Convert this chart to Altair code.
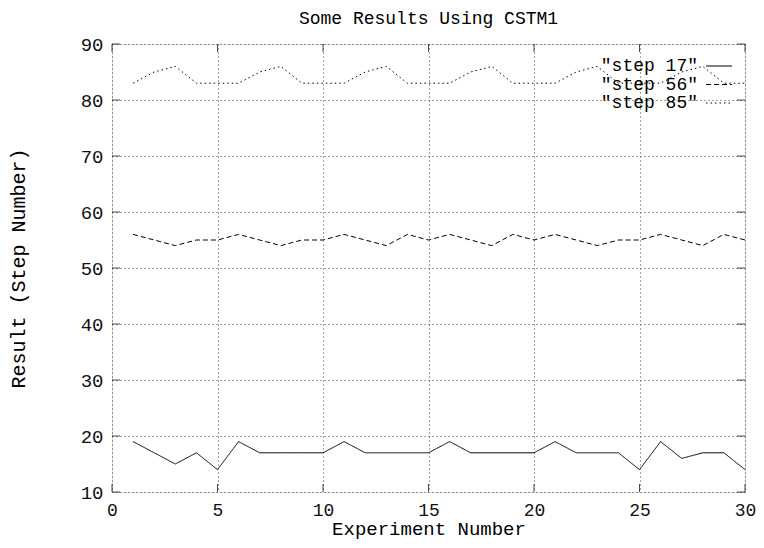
import altair as alt
import pandas as pd

experiments = list(range(1, 31))
step17 = [19, 17, 15, 17, 14, 19, 17, 17, 17, 17, 19, 17, 17, 17, 17,
          19, 17, 17, 17, 17, 19, 17, 17, 17, 14, 19, 16, 17, 17, 14]
step56 = [56, 55, 54, 55, 55, 56, 55, 54, 55, 55, 56, 55, 54, 56, 55,
          56, 55, 54, 56, 55, 56, 55, 54, 55, 55, 56, 55, 54, 56, 55]
step85 = [83, 85, 86, 83, 83, 83, 85, 86, 83, 83, 83, 85, 86, 83, 83,
          83, 85, 86, 83, 83, 83, 85, 86, 83, 83, 83, 85, 86, 83, 83]
series_names = ['"step 17"', '"step 56"', '"step 85"']
series_dash = [[1, 0], [5, 3], [1.5, 3]]
x_ticks = [0, 5, 10, 15, 20, 25, 30]
y_ticks = [10, 20, 30, 40, 50, 60, 70, 80, 90]

rows = []
for name, vals in zip(series_names, [step17, step56, step85]):
    for e, v in zip(experiments, vals):
        rows.append({"exp": e, "val": v, "series": name})
df = pd.DataFrame(rows)

W, H = 633, 448
MONO = "Liberation Mono"

xscale = alt.Scale(domain=[0, 30], nice=False, zero=False)
yscale = alt.Scale(domain=[10, 90], nice=False, zero=False)

xaxis = alt.Axis(values=x_ticks, grid=True, gridDash=[1, 3], gridColor="#444",
                 ticks=False, tickSize=0, domain=False, labelFlush=False,
                 labelFont=MONO, labelFontSize=18, labelColor="#111", labelPadding=9,
                 title="Experiment Number", titleFont=MONO, titleFontSize=19,
                 titleFontWeight="normal", titleColor="#000", titleX=W / 2,
                 titleY=36.5, titleBaseline="middle")
yaxis = alt.Axis(values=y_ticks, grid=True, gridDash=[1, 3], gridColor="#444",
                 ticks=False, tickSize=0, domain=False, labelFlush=False,
                 labelFont=MONO, labelFontSize=19, labelColor="#111", labelPadding=9,
                 title="Result (Step Number)", titleFont=MONO, titleFontSize=20,
                 titleFontWeight="normal", titleColor="#000", titleX=-94,
                 titleY=H / 2, titleAngle=-90, titleBaseline="middle")

lines = alt.Chart(df).mark_line(color="black", strokeWidth=1).encode(
    x=alt.X("exp:Q", scale=xscale, axis=xaxis),
    y=alt.Y("val:Q", scale=yscale, axis=yaxis),
    strokeDash=alt.StrokeDash("series:N",
                              scale=alt.Scale(domain=series_names, range=series_dash),
                              legend=None),
    detail="series:N",
)

xt = pd.DataFrame({"t": x_ticks})
yt = pd.DataFrame({"t": y_ticks})
tick_bottom = alt.Chart(xt).mark_tick(orient="vertical", size=8, yOffset=-4,
                                      color="black", thickness=1).encode(
    x=alt.X("t:Q", scale=xscale), y=alt.datum(10, scale=yscale))
tick_top = alt.Chart(xt).mark_tick(orient="vertical", size=8, yOffset=4,
                                   color="black", thickness=1).encode(
    x=alt.X("t:Q", scale=xscale), y=alt.datum(90, scale=yscale))
tick_left = alt.Chart(yt).mark_tick(orient="horizontal", size=8, xOffset=4,
                                    color="black", thickness=1).encode(
    y=alt.Y("t:Q", scale=yscale), x=alt.datum(0, scale=xscale))
tick_right = alt.Chart(yt).mark_tick(orient="horizontal", size=8, xOffset=-4,
                                     color="black", thickness=1).encode(
    y=alt.Y("t:Q", scale=yscale), x=alt.datum(30, scale=xscale))

legend_layers = []
for i, (name, dash) in enumerate(zip(series_names, series_dash)):
    ly = 22 + i * 18.5
    legend_layers.append(
        alt.Chart(pd.DataFrame({"label": [name]})).mark_text(
            font=MONO, fontSize=18, align="right", baseline="middle", color="black"
        ).encode(text="label:N", x=alt.value(586), y=alt.value(ly))
    )
    legend_layers.append(
        alt.Chart(pd.DataFrame({"label": [name]})).mark_rule(
            color="black", strokeWidth=1, strokeDash=dash
        ).encode(x=alt.value(594), x2=alt.value(620), y=alt.value(ly))
    )

chart = alt.layer(lines, tick_bottom, tick_top, tick_left, tick_right,
                  *legend_layers).properties(
    width=W, height=H,
    title=alt.TitleParams("Some Results Using CSTM1", font=MONO, fontSize=18,
                          fontWeight="normal", color="#000", anchor="middle",
                          offset=7),
    autosize=alt.AutoSizeParams(type="none"),
    padding={"left": 104, "top": 36, "right": 11, "bottom": 48},
).configure_view(stroke="black", strokeWidth=1).configure(background="white")

chart.save("out.html", embed_options={"renderer": "svg", "actions": False})
